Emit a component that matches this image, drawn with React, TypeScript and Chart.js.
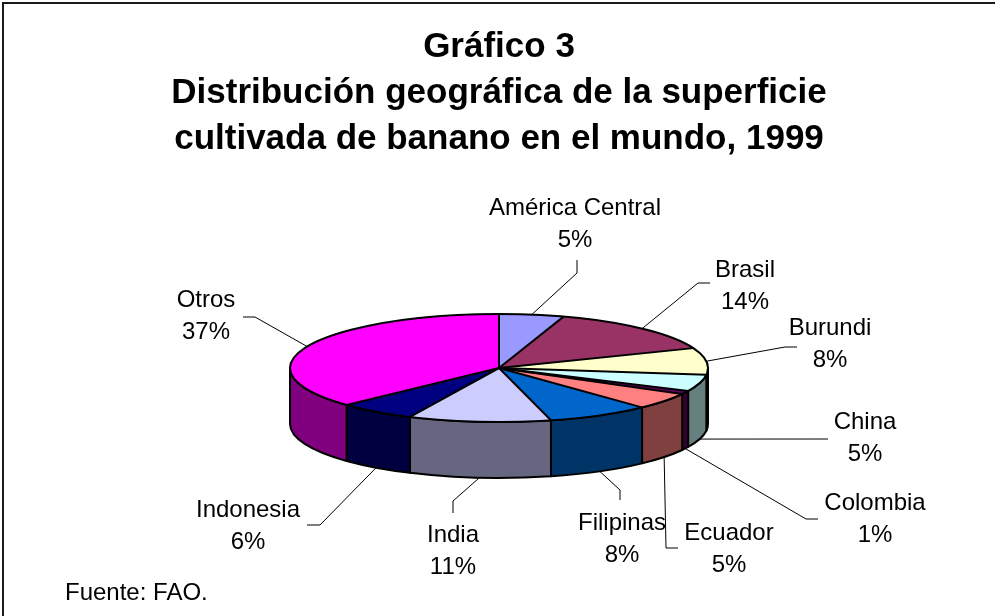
import React, { useEffect, useRef } from "react";
import { Chart, registerables } from "chart.js";

Chart.register(...registerables);

// ---- data ----
const categories = [
  "América Central",
  "Brasil",
  "Burundi",
  "China",
  "Colombia",
  "Ecuador",
  "Filipinas",
  "India",
  "Indonesia",
  "Otros",
];
const shares = [5, 14, 8, 5, 1, 5, 8, 11, 6, 37];
const topColors = [
  "#9999FF",
  "#993366",
  "#FFFFCC",
  "#CCFFFF",
  "#660066",
  "#FF8080",
  "#0066CC",
  "#CCCCFF",
  "#000080",
  "#FF00FF",
];
const sideColors = [
  "#4D4D80",
  "#4D1A33",
  "#808066",
  "#668080",
  "#330033",
  "#804040",
  "#003366",
  "#666680",
  "#000040",
  "#800080",
];
const titleLines = [
  "Gráfico 3",
  "Distribución geográfica de la superficie",
  "cultivada de banano en el mundo, 1999",
];
const sourceNote = "Fuente: FAO.";

// ---- layout (not data) ----
const FONT = "'Liberation Sans', Arial, Helvetica, sans-serif";
const TILT = 54 / 209;
const DEPTH = 56;
const LABEL_LAYOUT: { x: number; y: number; pts: number[][] }[] = [
  { x: 575, y: 208, pts: [[577, 273], [577, 260]] },
  { x: 745, y: 270, pts: [[698, 283], [710, 283]] },
  { x: 830, y: 328, pts: [[785, 347], [797, 347]] },
  { x: 865, y: 422, pts: [[828, 439]] },
  { x: 875, y: 503, pts: [[806, 519], [818, 519]] },
  { x: 729, y: 533, pts: [[666, 548], [678, 548]] },
  { x: 622, y: 523, pts: [[620, 490], [620, 500]] },
  { x: 453, y: 535, pts: [[453, 501], [453, 513]] },
  { x: 248, y: 510, pts: [[320, 525], [307, 525]] },
  { x: 206, y: 300, pts: [[255, 317], [243, 317]] },
];

function arcGeom(chart: any) {
  const meta = chart.getDatasetMeta(0);
  const arcs = meta.data as any[];
  const p0 = arcs[0].getProps(["x", "y", "outerRadius"], true);
  return {
    arcs,
    cx: p0.x as number,
    cy: p0.y as number,
    rx: p0.outerRadius as number,
    ry: (p0.outerRadius as number) * TILT,
  };
}

const pie3d = {
  id: "pie3d",
  beforeDraw(chart: any) {
    const ctx = chart.ctx as CanvasRenderingContext2D;
    ctx.save();
    ctx.strokeStyle = "#1a1a1a";
    ctx.lineWidth = 2;
    ctx.beginPath();
    ctx.moveTo(3, chart.height + 5);
    ctx.lineTo(3, 3);
    ctx.lineTo(chart.width + 5, 3);
    ctx.stroke();
    ctx.restore();
  },
  beforeDatasetDraw(chart: any) {
    const ctx = chart.ctx as CanvasRenderingContext2D;
    const { arcs, cx, cy, rx, ry } = arcGeom(chart);
    ctx.save();
    ctx.lineWidth = 2;
    ctx.strokeStyle = "#000";
    ctx.lineJoin = "round";
    arcs.forEach((arc: any, i: number) => {
      const { startAngle, endAngle } = arc.getProps(["startAngle", "endAngle"], true);
      for (const k of [-2 * Math.PI, 0, 2 * Math.PI]) {
        const s = Math.max(startAngle, k);
        const e = Math.min(endAngle, Math.PI + k);
        if (e - s > 1e-6) {
          ctx.beginPath();
          ctx.ellipse(cx, cy, rx, ry, 0, s, e, false);
          ctx.lineTo(cx + rx * Math.cos(e), cy + ry * Math.sin(e) + DEPTH);
          ctx.ellipse(cx, cy + DEPTH, rx, ry, 0, e, s, true);
          ctx.closePath();
          ctx.fillStyle = sideColors[i];
          ctx.fill();
          ctx.stroke();
        }
      }
    });
    ctx.restore();
    // squash the library-drawn pie into an ellipse
    ctx.save();
    ctx.translate(0, cy);
    ctx.scale(1, TILT);
    ctx.translate(0, -cy);
  },
  afterDatasetDraw(chart: any) {
    const ctx = chart.ctx as CanvasRenderingContext2D;
    ctx.restore();
    const { arcs, cx, cy, rx, ry } = arcGeom(chart);
    ctx.save();
    ctx.lineWidth = 2;
    ctx.strokeStyle = "#000";
    ctx.lineJoin = "round";
    arcs.forEach((arc: any) => {
      const { startAngle } = arc.getProps(["startAngle"], true);
      ctx.beginPath();
      ctx.moveTo(cx, cy);
      ctx.lineTo(cx + rx * Math.cos(startAngle), cy + ry * Math.sin(startAngle));
      ctx.stroke();
    });
    ctx.beginPath();
    ctx.ellipse(cx, cy, rx, ry, 0, 0, Math.PI * 2);
    ctx.stroke();
    ctx.restore();
  },
  afterDraw(chart: any) {
    const ctx = chart.ctx as CanvasRenderingContext2D;
    const { arcs, cx, cy, rx, ry } = arcGeom(chart);
    const total = shares.reduce((a, b) => a + b, 0);
    ctx.save();
    ctx.strokeStyle = "#000";
    ctx.lineWidth = 1;
    arcs.forEach((arc: any, i: number) => {
      const { startAngle, endAngle } = arc.getProps(["startAngle", "endAngle"], true);
      const mid = (startAngle + endAngle) / 2;
      const sn = Math.sin(mid);
      const ax = cx + rx * Math.cos(mid);
      const ay = cy + ry * sn + (sn > 0 ? DEPTH : 0);
      const lay = LABEL_LAYOUT[i];
      ctx.beginPath();
      ctx.moveTo(ax, ay);
      lay.pts.forEach((p) => ctx.lineTo(p[0], p[1]));
      ctx.stroke();
      ctx.fillStyle = "#000";
      ctx.font = `24px ${FONT}`;
      ctx.textAlign = "center";
      ctx.textBaseline = "middle";
      ctx.fillText(categories[i], lay.x, lay.y);
      ctx.fillText(Math.round((shares[i] / total) * 100) + "%", lay.x, lay.y + 32);
    });
    ctx.textAlign = "left";
    ctx.fillText(sourceNote, 65, 593);
    ctx.restore();
  },
};

export default function App() {
  const ref = useRef<HTMLCanvasElement | null>(null);
  useEffect(() => {
    if (!ref.current) return;
    const chart = new Chart(ref.current, {
      type: "pie",
      data: {
        labels: categories,
        datasets: [
          {
            data: shares,
            backgroundColor: topColors,
            borderWidth: 0,
            radius: 209,
            clip: false,
          } as any,
        ],
      },
      options: {
        animation: false,
        responsive: false,
        events: [],
        rotation: 0,
        layout: { padding: { left: 3, right: 0, top: 0, bottom: 42 } },
        plugins: {
          legend: { display: false },
          tooltip: { enabled: false },
          title: {
            display: true,
            text: titleLines,
            color: "#000",
            font: { family: FONT, size: 35, weight: "bold", lineHeight: 46 / 35 },
            padding: { top: 24, bottom: 0 },
          },
        },
      } as any,
      plugins: [pie3d],
    });
    return () => chart.destroy();
  }, []);
  return (
    <div style={{ position: "absolute", left: 0, top: 0, width: 995, height: 616 }}>
      <canvas ref={ref} width={995} height={616} style={{ display: "block" }} />
    </div>
  );
}
